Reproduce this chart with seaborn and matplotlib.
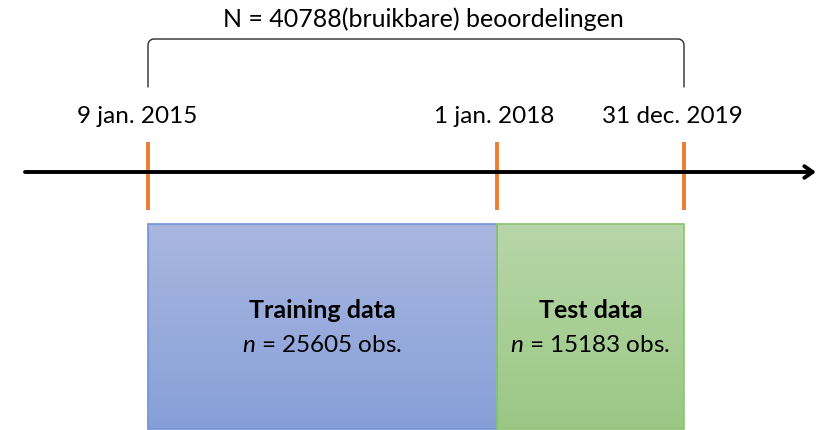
import numpy as np
import matplotlib.pyplot as plt
import seaborn as sns
from matplotlib.colors import LinearSegmentedColormap

# data
total_n = 40788
dates = ["9 jan. 2015", "1 jan. 2018", "31 dec. 2019"]
segments = ["Training data", "Test data"]
counts = [25605, 15183]

# layout (pixel-like axis units)
tick_x = [148, 497, 684]
label_dx = [-11, -3, -12]
box_top, box_bottom = 225, 430
axis_y = 173

sns.set_theme(style="white")
plt.rcParams['font.family'] = ['Lato', 'DejaVu Sans']
plt.rcParams['mathtext.fontset'] = 'custom'
plt.rcParams['mathtext.rm'] = 'Lato'
plt.rcParams['mathtext.it'] = 'Lato:italic'

fig = plt.figure(figsize=(8.17, 4.31), dpi=100)
ax = fig.add_axes([0, 0, 1, 1])
ax.set_xlim(0, 817)
ax.set_ylim(431, 0)
ax.axis('off')

# title + bracket
ax.text(423, 19, f"N = {total_n}(bruikbare) beoordelingen", ha='center', va='center',
        fontsize=18, color='black')
r = 6
x0, x1, ytop, ybot = tick_x[0], tick_x[-1], 40, 88
t = np.linspace(np.pi, 1.5 * np.pi, 20)
left_arc_x = x0 + r + r * np.cos(t)
left_arc_y = ytop + r + r * np.sin(t)
t2 = np.linspace(1.5 * np.pi, 2 * np.pi, 20)
right_arc_x = x1 - r + r * np.cos(t2)
right_arc_y = ytop + r + r * np.sin(t2)
bx = np.concatenate([[x0], left_arc_x, right_arc_x, [x1]])
by = np.concatenate([[ybot], left_arc_y, right_arc_y, [ybot]])
ax.plot(bx, by, color='#2b2b2b', lw=1.0)

# time axis
ax.annotate("", xy=(816, axis_y), xytext=(25, axis_y),
            arrowprops=dict(arrowstyle='->, head_length=0.5, head_width=0.35',
                            lw=2.8, color='black', shrinkA=0, shrinkB=0))
for x, lab, dx in zip(tick_x, dates, label_dx):
    ax.plot([x, x], [143, 211], color='#ED7D31', lw=2.8, solid_capstyle='butt')
    ax.text(x + dx, 117, lab, ha='center', va='center', fontsize=17.5, color='black')

# boxes with vertical gradient
fills = [('#A9B7E0', '#879FD8', '#6F93D3'), ('#B7D6A9', '#9AC884', '#8CC472')]
for i, (name, n) in enumerate(zip(segments, counts)):
    left, right = tick_x[i], tick_x[i + 1]
    top_c, bot_c, edge = fills[i]
    cmap = LinearSegmentedColormap.from_list(f"g{i}", [top_c, bot_c])
    grad = np.linspace(0, 1, 256).reshape(-1, 1)
    ax.imshow(grad, cmap=cmap, aspect='auto', extent=(left, right, box_bottom, box_top),
              zorder=1)
    ax.barh((box_top + box_bottom) / 2, right - left, height=box_bottom - box_top,
            left=left, facecolor='none', edgecolor=edge, lw=1.2, zorder=2)
    cx = (left + right) / 2
    ax.text(cx, 311, name, ha='center', va='center', fontsize=18, fontweight='bold',
            color='black', zorder=3)
    ax.text(cx, 346, f"$n$ = {n} obs.", ha='center', va='center', fontsize=17.5,
            color='black', zorder=3)

ax.set_xlim(0, 817)
ax.set_ylim(431, 0)
fig.savefig("out.png", dpi=100)
